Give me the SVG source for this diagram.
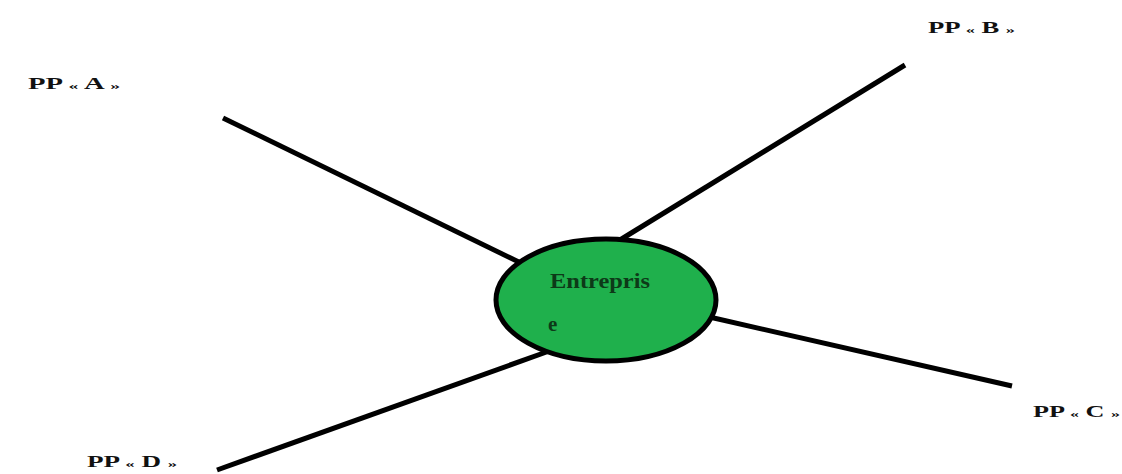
<svg xmlns="http://www.w3.org/2000/svg" width="1122" height="474" viewBox="0 0 1122 474">
<style>
.lbl{font-family:"Liberation Serif","Times New Roman",serif;font-weight:bold;font-size:16px;fill:#111}
.g{font-size:11px}
.conn line{stroke:#000;stroke-width:5;stroke-linecap:butt}
.core{fill:#1fb04c;stroke:#000;stroke-width:5}
.ctext{font-family:"Liberation Serif","Times New Roman",serif;font-weight:bold;font-size:21px;fill:#0d3a18}
</style>
<rect width="1122" height="474" fill="#fff"/>
<g id="connectors" class="conn">
<line x1="223" y1="118" x2="525" y2="265"/>
<line x1="905" y1="65" x2="615" y2="243"/>
<line x1="1012" y1="386" x2="705" y2="316"/>
<line x1="217" y1="470" x2="552" y2="350"/>
</g>
<g id="entreprise">
<ellipse class="core" cx="606" cy="300" rx="110" ry="61"/>
<text class="ctext" x="550" y="288" textLength="100" lengthAdjust="spacingAndGlyphs">Entrepris</text>
<text class="ctext" x="548" y="331" font-size="22">e</text>
</g>
<g id="ppA"><text class="lbl" x="28" y="89" textLength="92" lengthAdjust="spacingAndGlyphs">PP <tspan class="g">«</tspan> A <tspan class="g">»</tspan></text></g>
<g id="ppB"><text class="lbl" x="928" y="33" textLength="87" lengthAdjust="spacingAndGlyphs">PP <tspan class="g">«</tspan> B <tspan class="g">»</tspan></text></g>
<g id="ppC"><text class="lbl" x="1033" y="417" textLength="87" lengthAdjust="spacingAndGlyphs">PP <tspan class="g">«</tspan> C <tspan class="g">»</tspan></text></g>
<g id="ppD"><text class="lbl" x="87" y="467" textLength="90" lengthAdjust="spacingAndGlyphs">PP <tspan class="g">«</tspan> D <tspan class="g">»</tspan></text></g>
</svg>
